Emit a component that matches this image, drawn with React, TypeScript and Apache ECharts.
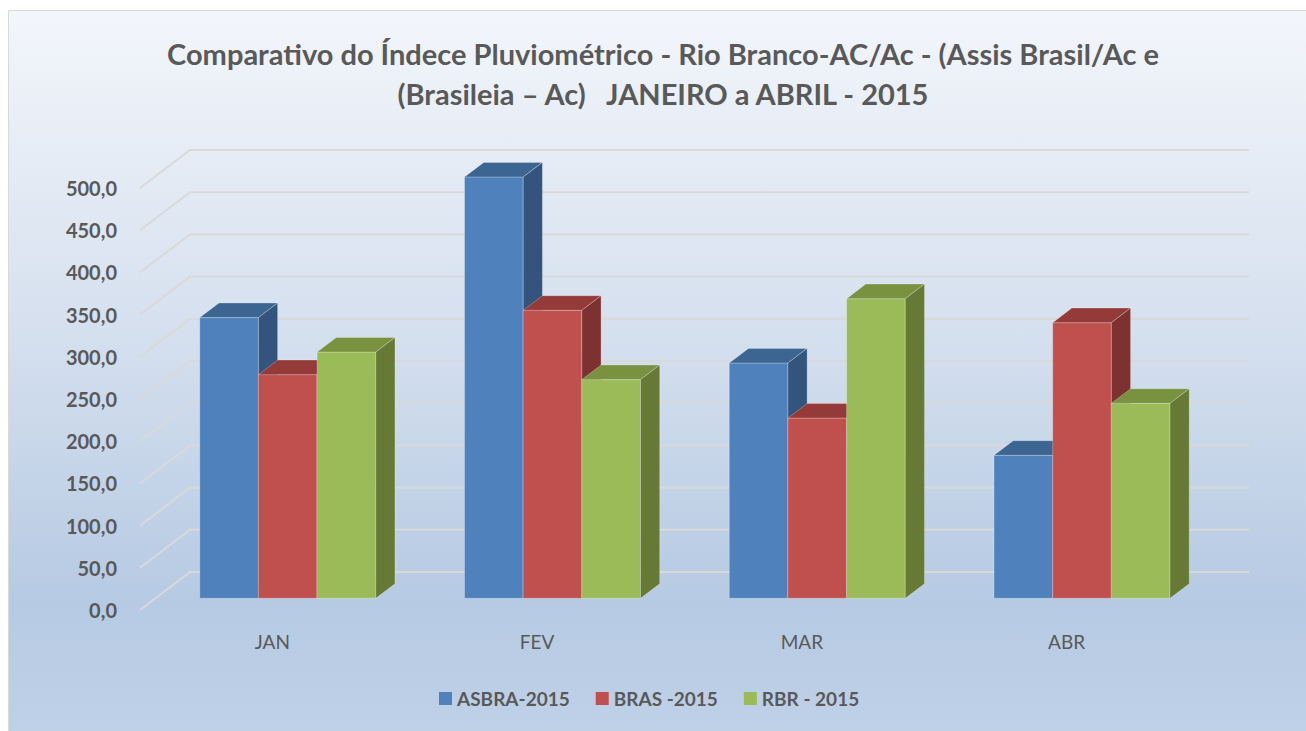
import React, { useEffect, useRef } from "react";
import * as echarts from "echarts";

const categories = ["JAN", "FEV", "MAR", "ABR"];
const seriesNames = ["ASBRA-2015", "BRAS -2015", "RBR - 2015"];
const asbra = [332.6, 499.2, 278.8, 169.4];
const bras = [265.0, 341.2, 213.6, 326.6];
const rbr = [291.8, 259.1, 355.0, 231.0];
const yTicks = [0, 50, 100, 150, 200, 250, 300, 350, 400, 450, 500];

const titleLine1 = "Comparativo do Índece Pluviométrico - Rio Branco-AC/Ac - (Assis Brasil/Ac e";
const titleLine2 = "(Brasileia – Ac)   JANEIRO a ABRIL - 2015";

const palette = [
  { front: "#4F81BD", top: "#3C6591", side: "#32547D" },
  { front: "#C0504D", top: "#943B39", side: "#7D3130" },
  { front: "#9BBB59", top: "#789240", side: "#667A36" },
];

const DX = 50;
const DY = -38;
const F0 = 0.308;
const FD = 0.384;
const FONT = "Lato, 'Open Sans', sans-serif";

export default function App() {
  const ref = useRef<HTMLDivElement>(null);
  useEffect(() => {
    if (!ref.current) return;
    const chart = echarts.init(ref.current, undefined, { renderer: "svg" });
    const allValues = [asbra, bras, rbr];

    const barSeries = allValues.map((vals, si) => ({
      type: "custom",
      name: seriesNames[si],
      itemStyle: { color: palette[si].front },
      data: vals.map((v, i) => [i, v]),
      z: 3,
      renderItem: (params: any, api: any) => {
        const cat = api.value(0);
        const val = api.value(1);
        const base = api.coord([cat, 0]);
        const topP = api.coord([cat, val]);
        const band = api.size([1, 0])[0];
        const barW = band * 0.2216;
        const x = base[0] - (3 * barW) / 2 + si * barW + DX * F0;
        const yB = base[1] + DY * F0;
        const yT = topP[1] + DY * F0;
        const dx = DX * FD;
        const dy = DY * FD;
        const c = palette[si];
        const stroke = "rgba(255,255,255,0.25)";
        return {
          type: "group",
          children: [
            {
              type: "rect",
              shape: { x, y: yT, width: barW, height: yB - yT },
              style: { fill: c.front, stroke, lineWidth: 1 },
            },
            {
              type: "polygon",
              shape: { points: [[x, yT], [x + barW, yT], [x + barW + dx, yT + dy], [x + dx, yT + dy]] },
              style: { fill: c.top, stroke, lineWidth: 1 },
            },
            {
              type: "polygon",
              shape: { points: [[x + barW, yT], [x + barW + dx, yT + dy], [x + barW + dx, yB + dy], [x + barW, yB]] },
              style: { fill: c.side, stroke, lineWidth: 1 },
            },
          ],
        };
      },
    }));

    const gridSeries = {
      type: "custom",
      name: "grid",
      silent: true,
      z: 1,
      data: yTicks.map((v) => [0, v]),
      renderItem: (params: any, api: any) => {
        const cs = params.coordSys;
        const y = api.coord([0, api.value(1)])[1];
        return {
          type: "polyline",
          shape: { points: [[cs.x, y], [cs.x + DX, y + DY], [cs.x + cs.width + DX, y + DY]] },
          style: { stroke: "#D9D9D9", lineWidth: 2, fill: null },
        };
      },
    };

    chart.setOption({
      animation: false,
      graphic: [
        {
          type: "rect",
          z: -10,
          silent: true,
          shape: { x: 8.5, y: 10.5, width: 1310, height: 740 },
          style: {
            fill: new echarts.graphic.LinearGradient(0, 0, 0, 1, [
              { offset: 0, color: "#F3F6FB" },
              { offset: 0.45, color: "#D4DFEE" },
              { offset: 0.8, color: "#B6CAE3" },
              { offset: 1, color: "#C0D2E8" },
            ]),
            stroke: "#D9D9D9",
            lineWidth: 1,
          },
        },
        {
          type: "text",
          x: 663,
          y: 53,
          style: {
            text: titleLine1,
            align: "center",
            verticalAlign: "middle",
            font: `bold 29px ${FONT}`,
            fill: "#595959",
          },
        },
        {
          type: "text",
          x: 663,
          y: 93,
          style: {
            text: titleLine2,
            align: "center",
            verticalAlign: "middle",
            font: `bold 29px ${FONT}`,
            fill: "#595959",
          },
        },
      ],
      legend: {
        data: seriesNames,
        left: 434,
        top: 684,
        icon: "rect",
        itemWidth: 13,
        itemHeight: 13,
        itemGap: 26,
        textStyle: { color: "#595959", fontSize: 19, fontWeight: "bold", fontFamily: FONT },
      },
      grid: { left: 140, right: 107, top: 188, bottom: 121, containLabel: false },
      xAxis: {
        type: "category",
        data: categories,
        axisLine: { show: false },
        axisTick: { show: false },
        axisLabel: { color: "#595959", fontSize: 19, fontFamily: FONT, margin: 22 },
      },
      yAxis: {
        type: "value",
        min: 0,
        max: 500,
        interval: 50,
        axisLine: { show: false },
        axisTick: { show: false },
        splitLine: { show: false },
        axisLabel: {
          color: "#595959",
          fontSize: 20,
          fontWeight: "bold",
          fontFamily: FONT,
          margin: 23,
          formatter: (v: number) => v.toFixed(1).replace(".", ","),
        },
      },
      series: [gridSeries, ...barSeries],
    });
    return () => chart.dispose();
  }, []);
  return (
    <div
      ref={ref}
      style={{ position: "fixed", left: 0, top: 0, width: 1306, height: 731, background: "#ffffff" }}
    />
  );
}
